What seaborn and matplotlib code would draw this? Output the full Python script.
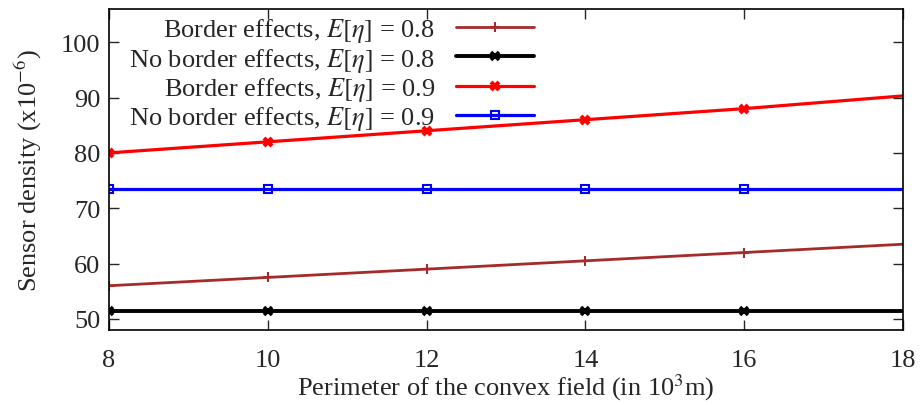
import numpy as np
import pandas as pd
import matplotlib
matplotlib.use("Agg")
import matplotlib.pyplot as plt
from matplotlib.lines import Line2D
from matplotlib.legend_handler import HandlerLine2D
import seaborn as sns

# Data
perimeter = [8, 10, 12, 14, 16, 18]
border_08 = [56.0, 57.5, 59.0, 60.5, 62.0, 63.5]
no_border_08 = [51.5, 51.5, 51.5, 51.5, 51.5, 51.5]
border_09 = [80.0, 82.0, 84.0, 86.0, 88.0, 90.3]
no_border_09 = [73.5, 73.5, 73.5, 73.5, 73.5, 73.5]

labels = [r"Border effects, $E[\eta]$ = 0.8",
          r"No border effects, $E[\eta]$ = 0.8",
          r"Border effects, $E[\eta]$ = 0.9",
          r"No border effects, $E[\eta]$ = 0.9"]

sns.set_style("ticks")
plt.rcParams['font.family'] = ['Liberation Serif', 'DejaVu Serif']
plt.rcParams['mathtext.fontset'] = 'stix'

fig = plt.figure(figsize=(9.21, 4.06), dpi=100)
ax = fig.add_axes([0.1183, 0.1847, 0.8622, 0.7907])

styles = [
    (border_08, '#a52a2a', '+', dict(markersize=7, markeredgewidth=1.5), 2.0),
    (no_border_08, 'black', 'x', dict(markersize=6, markeredgewidth=2.6), 2.8),
    (border_09, '#ff0000', 'x', dict(markersize=6, markeredgewidth=3.0), 2.3),
    (no_border_09, '#0000ff', 's', dict(markersize=6, markerfacecolor='none',
                                         markeredgewidth=1.5), 2.3),
]

handles = []
for (vals, color, mk, mkw, lw), lab in zip(styles, labels):
    sns.lineplot(x=perimeter, y=vals, ax=ax, color=color, marker=mk,
                 linewidth=lw, markevery=[0, 1, 2, 3, 4],
                 markeredgecolor=color, legend=False, **mkw)
    handles.append(Line2D([0, 1], [0, 0], color=color, marker=mk, linewidth=lw,
                          markeredgecolor=color, **mkw))

ax.set_xlim(8, 18)
ax.set_ylim(48, 106)
ax.set_xticks([8, 10, 12, 14, 16, 18])
ax.set_yticks([50, 60, 70, 80, 90, 100])
ax.tick_params(direction='in', length=7, width=1, top=True, right=True,
               labelsize=19)
ax.tick_params(axis='x', pad=14)
ax.tick_params(axis='y', pad=6)
for s in ax.spines.values():
    s.set_linewidth(1.2)
    s.set_color('black')

ax.set_xlabel(r"Perimeter of the convex field (in 10$^3$m)", fontsize=19, labelpad=0)
ax.set_ylabel(r"Sensor density (x10$^{-6}$)", fontsize=19, labelpad=12)

leg = ax.legend(handles, labels, loc='upper left', frameon=False,
                markerfirst=False, numpoints=1,
                handler_map={Line2D: HandlerLine2D(numpoints=1)},
                fontsize=19, handlelength=2.95, labelspacing=0.05,
                handletextpad=0.8, borderaxespad=0.0,
                bbox_to_anchor=(0.012, 1.01))
for t in leg.get_texts():
    t.set_ha('right')
leg._legend_box.align = 'right'

fig.savefig("out.png", dpi=100)
